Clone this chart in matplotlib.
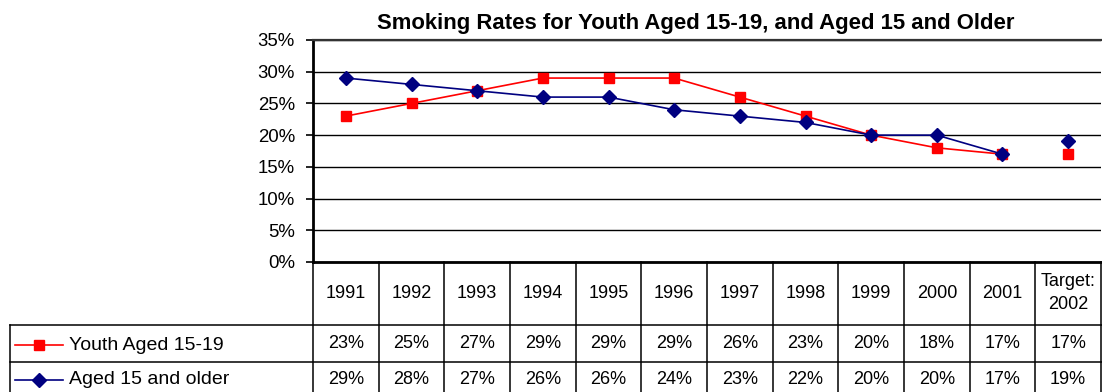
import matplotlib.pyplot as plt
from matplotlib.lines import Line2D

plt.rcParams['font.family'] = ['Liberation Sans', 'DejaVu Sans']

# data (percent)
years = ['1991', '1992', '1993', '1994', '1995', '1996', '1997', '1998',
         '1999', '2000', '2001', 'Target:\n2002']
youth = [23, 25, 27, 29, 29, 29, 26, 23, 20, 18, 17, 17]
adults = [29, 28, 27, 26, 26, 24, 23, 22, 20, 20, 17, 19]
series_names = ['Youth Aged 15-19', 'Aged 15 and older']
yticks = [0, 5, 10, 15, 20, 25, 30, 35]

W, H = 1102, 392
fig = plt.figure(figsize=(W / 100, H / 100), dpi=100)
fs = 13

def fx(px):
    return px / W

def fy(py):
    return 1 - py / H

left, right, top, bottom = 313, 1101, 40, 262
ax = fig.add_axes([fx(left), fy(bottom), fx(right - left), fy(top) - fy(bottom)])

n = len(years)
xs = list(range(n))
red, navy = '#FF0000', '#000080'
styles = [dict(color=red, marker='s', markersize=7.5),
          dict(color=navy, marker='D', markersize=7)]

# actual years are joined, the target point stands alone
for vals, st in zip([youth, adults], styles):
    ax.plot(xs[:-1], vals[:-1], lw=1.2, zorder=3, **st)
    ax.plot(xs[-1:], vals[-1:], lw=0, zorder=3, **st)

ax.set_xlim(-0.5, n - 0.5)
ax.set_ylim(0, 35)
ax.set_yticks(yticks)
ax.set_yticklabels([f'{t}%' for t in yticks], fontsize=13.4)
ax.set_xticks([])
ax.tick_params(axis='y', length=5, width=1.2, pad=8)
ax.grid(axis='y', color='black', lw=1)
ax.spines['right'].set_visible(False)
ax.spines['left'].set_linewidth(2)
ax.spines['bottom'].set_linewidth(2)
ax.spines['top'].set_linewidth(1.6)
ax.spines['top'].set_color('#333333')

fig.text(fx(696), fy(24), 'Smoking Rates for Youth Aged 15-19, and Aged 15 and Older',
         ha='center', va='center', fontsize=15.9, fontweight='bold')

# data table under the plot
col_w = (right - left) / n
row_y = [262, 325, 362, 400]
lkw = dict(color='black', lw=1.1)

for i in range(n + 1):
    x = left + i * col_w
    fig.add_artist(Line2D([fx(x), fx(x)], [fy(row_y[0]), fy(row_y[-1])], **lkw))
for y in row_y[1:3]:
    fig.add_artist(Line2D([fx(10), fx(W)], [fy(y), fy(y)], **lkw))
fig.add_artist(Line2D([fx(10), fx(10)], [fy(row_y[1]), fy(row_y[-1])], **lkw))

for i, lab in enumerate(years):
    cx = left + (i + 0.5) * col_w
    fig.text(fx(cx), fy(293), lab, ha='center', va='center', fontsize=fs,
             linespacing=1.45)
    fig.text(fx(cx), fy(344), f'{youth[i]}%', ha='center', va='center', fontsize=fs)
    fig.text(fx(cx), fy(380), f'{adults[i]}%', ha='center', va='center', fontsize=fs)

# legend keys in the row headers
for name, st, yc in zip(series_names, styles, [345, 380]):
    fig.add_artist(Line2D([fx(15), fx(63)], [fy(yc), fy(yc)], lw=1.2, color=st['color']))
    fig.add_artist(Line2D([fx(39)], [fy(yc)], lw=0, **st))
    fig.text(fx(69), fy(yc), name, ha='left', va='center', fontsize=14)

fig.savefig('out.png', dpi=100)
